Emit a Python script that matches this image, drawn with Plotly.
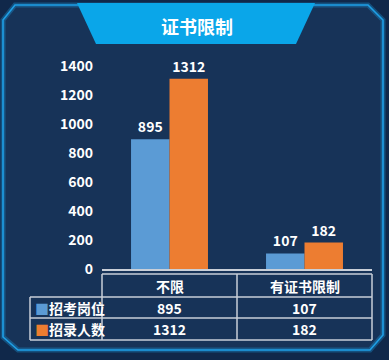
import plotly.graph_objects as go

title = "证书限制"
categories = ["不限", "有证书限制"]
series_names = ["招考岗位", "招录人数"]
posts = [895, 107]
hires = [1312, 182]
y_ticks = [0, 200, 400, 600, 800, 1000, 1200, 1400]

colors = ["#5b9bd5", "#ed7d31"]
W, H = 389, 360
PL, PR, PT, PB = 102, 372, 66, 269
FONT = "Noto Sans CJK SC"

def X(px):
    return (px - PL) / (PR - PL)

def Y(py):
    return (PB - py) / (PB - PT)

def path(pts):
    return "M " + " L ".join(f"{X(a):.5f},{Y(b):.5f}" for a, b in pts) + " Z"

fig = go.Figure()
for name, vals, c in zip(series_names, [posts, hires], colors):
    fig.add_trace(go.Bar(
        x=categories, y=vals, name=name, marker=dict(color=c, line=dict(width=0)),
        text=[str(v) for v in vals], textposition="outside",
        textfont=dict(color="white", size=14, family=FONT, weight="bold"),
        cliponaxis=False,
    ))

shapes = []
# frame
frame = [(3, 20), (15, 5), (368, 5), (383, 20), (383, 335), (370, 350), (18, 350), (3, 337)]
shapes.append(dict(type="path", xref="paper", yref="paper", path=path(frame),
                   fillcolor="#173358", line=dict(color="rgba(30,155,224,0.35)", width=5), layer="below"))
shapes.append(dict(type="path", xref="paper", yref="paper", path=path(frame),
                   fillcolor="rgba(0,0,0,0)", line=dict(color="#1e9fe6", width=1.6), layer="below"))
# banner
shapes.append(dict(type="path", xref="paper", yref="paper",
                   path=path([(77, 3), (315, 3), (296, 44), (96, 44)]),
                   fillcolor="#0aa6e9", line=dict(width=0), layer="below"))
# axis line
lc = "#c9cfd8"
def hline(x0, x1, y, w=1.5):
    shapes.append(dict(type="line", xref="paper", yref="paper", x0=X(x0), x1=X(x1), y0=Y(y), y1=Y(y),
                       line=dict(color=lc, width=w)))
def vline(x, y0, y1, w=1.5):
    shapes.append(dict(type="line", xref="paper", yref="paper", x0=X(x), x1=X(x), y0=Y(y0), y1=Y(y1),
                       line=dict(color=lc, width=w)))

hline(102, 372, 270, 2)
# table
hline(102, 372, 274)
hline(30, 372, 297)
hline(30, 372, 318)
hline(30, 372, 340)
vline(102, 274, 340)
vline(237, 274, 340)
vline(372, 274, 340)
vline(30, 297, 340)

ann = []
ann.append(dict(text=title, x=X(197), y=Y(26), xref="paper", yref="paper", showarrow=False,
                font=dict(color="white", size=18, family=FONT, weight="bold"), xanchor="center", yanchor="middle"))
col_cx = [169.5, 304.5]
for cx, cat in zip(col_cx, categories):
    ann.append(dict(text=cat, x=X(cx), y=Y(286), xref="paper", yref="paper", showarrow=False,
                    font=dict(color="white", size=14, family=FONT, weight="bold"), xanchor="center", yanchor="middle"))
row_cy = [307.5, 329]
for cy, name, vals, c in zip(row_cy, series_names, [posts, hires], colors):
    ann.append(dict(text=f"<span style='color:{c}'>■</span>{name}", x=X(33), y=Y(cy), xref="paper", yref="paper",
                    showarrow=False, font=dict(color="white", size=14, family=FONT, weight="bold"),
                    xanchor="left", yanchor="middle"))
    for cx, v in zip(col_cx, vals):
        ann.append(dict(text=str(v), x=X(cx), y=Y(cy), xref="paper", yref="paper", showarrow=False,
                        font=dict(color="white", size=14, family=FONT, weight="bold"),
                        xanchor="center", yanchor="middle"))

fig.update_layout(
    width=W, height=H,
    margin=dict(l=PL, r=W - PR, t=PT, b=H - PB, pad=0),
    paper_bgcolor="#10284a", plot_bgcolor="rgba(0,0,0,0)",
    barmode="group", bargap=0.43, bargroupgap=0,
    showlegend=False,
    shapes=shapes, annotations=ann,
    xaxis=dict(range=[-0.5, 1.5], showticklabels=False, showgrid=False, zeroline=False, showline=False, ticks=""),
    yaxis=dict(range=[0, 1400], tickvals=y_ticks, showgrid=False, zeroline=False, showline=False, ticks="",
               ticklabelstandoff=8,
               tickfont=dict(color="white", size=14, family=FONT, weight="bold")),
)
fig.write_html("out.html")
